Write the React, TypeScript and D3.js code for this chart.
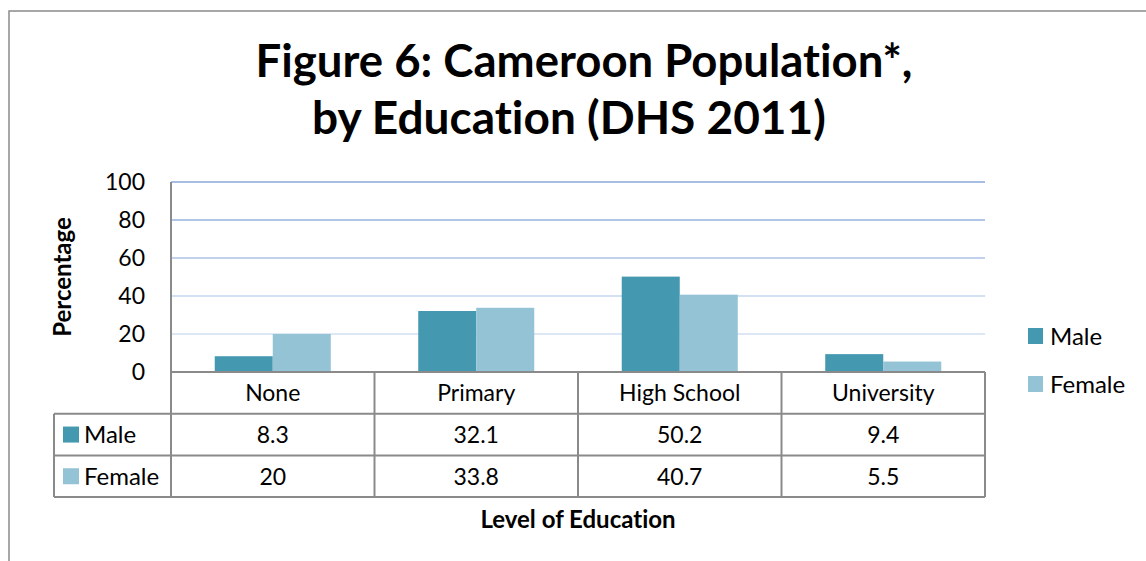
import React from "react";
import * as d3 from "d3";

const categories = ["None", "Primary", "High School", "University"];
const maleValues = [8.3, 32.1, 50.2, 9.4];
const femaleValues = [20, 33.8, 40.7, 5.5];
const seriesNames = ["Male", "Female"];
const yTicks = [0, 20, 40, 60, 80, 100];

const COLORS = ["#4498AF", "#93C3D4"];
const GRID_COLORS: Record<number, string> = {
  100: "#A7BDE2",
  80: "#B1C5E6",
  60: "#C2D2EC",
  40: "#D3DFF3",
  20: "#DEE7F6",
};
const FONT = "Lato, 'Open Sans', sans-serif";
const LINE = "#8A8A8A";
const FS = 23;

export default function App() {
  const W = 1146;
  const H = 561;
  const left = 171;
  const right = 985;
  const top = 182;
  const zeroY = 372;
  const rowH = 41.7;
  const tableLeft = 54;

  const x = d3.scaleBand<string>().domain(categories).range([left, right]).paddingInner(0).paddingOuter(0);
  const y = d3.scaleLinear().domain([0, 100]).range([zeroY, top]);
  const inner = d3.scaleBand<string>().domain(seriesNames).range([0, x.bandwidth()]).paddingOuter(0.754).paddingInner(0);

  const series = [maleValues, femaleValues];
  const rowTop = (i: number) => zeroY + rowH * (i + 1);
  const tableBottom = zeroY + rowH * 3;
  const txt = { fontFamily: FONT, style: { fontVariantLigatures: "none" as const }, fill: "#000" };

  return (
    <svg width={W} height={H} style={{ position: "absolute", left: 0, top: 0, background: "#fff" }}>
      <rect x={0} y={0} width={W} height={H} fill="#fff" />
      {/* frame */}
      <rect x={9} y={11} width={W + 20} height={H + 20} fill="none" stroke={LINE} strokeWidth={1.5} />

      {/* title */}
      <text x={584} y={77} textAnchor="middle" fontWeight={700} fontSize={45.5} {...txt}>
        Figure 6: Cameroon Population*,
      </text>
      <text x={569} y={134} textAnchor="middle" fontWeight={700} fontSize={46} {...txt}>
        by Education (DHS 2011)
      </text>

      {/* gridlines */}
      {yTicks.filter((t) => t > 0).map((t) => (
        <line key={t} x1={left} x2={right} y1={y(t)} y2={y(t)} stroke={GRID_COLORS[t]} strokeWidth={2} />
      ))}

      {/* y tick labels */}
      {yTicks.map((t) => (
        <text key={t} x={145} y={y(t)} dy="0.36em" textAnchor="end" fontSize={FS} {...txt}>
          {t}
        </text>
      ))}

      {/* bars */}
      {categories.map((c, ci) =>
        seriesNames.map((s, si) => (
          <rect
            key={c + s}
            x={(x(c) as number) + (inner(s) as number)}
            y={y(series[si][ci])}
            width={inner.bandwidth()}
            height={zeroY - y(series[si][ci])}
            fill={COLORS[si]}
          />
        ))
      )}

      {/* table lines */}
      <line x1={left} x2={left} y1={top} y2={tableBottom} stroke={LINE} strokeWidth={2} />
      <line x1={left} x2={right} y1={zeroY} y2={zeroY} stroke={LINE} strokeWidth={2} />
      {[0, 1, 2].map((i) => (
        <line key={i} x1={tableLeft} x2={right} y1={rowTop(i)} y2={rowTop(i)} stroke={LINE} strokeWidth={2} />
      ))}
      <line x1={tableLeft} x2={tableLeft} y1={rowTop(0)} y2={tableBottom} stroke={LINE} strokeWidth={2} />
      {categories.map((c) => (
        <line key={c} x1={(x(c) as number) + x.bandwidth()} x2={(x(c) as number) + x.bandwidth()} y1={zeroY} y2={tableBottom} stroke={LINE} strokeWidth={2} />
      ))}

      {/* category labels */}
      {categories.map((c) => (
        <text key={c} x={(x(c) as number) + x.bandwidth() / 2} y={zeroY + rowH / 2} dy="0.36em" textAnchor="middle" fontSize={FS} {...txt}>
          {c}
        </text>
      ))}

      {/* table rows */}
      {seriesNames.map((s, si) => (
        <g key={s}>
          <rect x={63} y={rowTop(si) + rowH / 2 - 8} width={16} height={16} fill={COLORS[si]} />
          <text x={84} y={rowTop(si) + rowH / 2} dy="0.36em" fontSize={24} {...txt}>
            {s}
          </text>
          {categories.map((c, ci) => (
            <text key={c} x={(x(c) as number) + x.bandwidth() / 2} y={rowTop(si) + rowH / 2} dy="0.36em" textAnchor="middle" fontSize={FS} {...txt}>
              {series[si][ci]}
            </text>
          ))}
        </g>
      ))}

      {/* legend */}
      {seriesNames.map((s, si) => (
        <g key={s}>
          <rect x={1028} y={328 + si * 48} width={15} height={16} fill={COLORS[si]} />
          <text x={1050} y={336 + si * 48} dy="0.36em" fontSize={24} {...txt}>
            {s}
          </text>
        </g>
      ))}

      {/* axis titles */}
      <text transform={`translate(71,277) rotate(-90)`} textAnchor="middle" fontWeight={700} fontSize={24} {...txt}>
        Percentage
      </text>
      <text x={578} y={519} dy="0.36em" textAnchor="middle" fontWeight={700} fontSize={24} {...txt}>
        Level of Education
      </text>
    </svg>
  );
}
